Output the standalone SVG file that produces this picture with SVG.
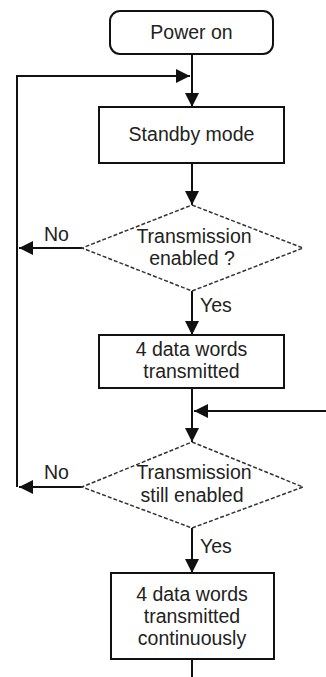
<svg xmlns="http://www.w3.org/2000/svg" width="326" height="677" viewBox="0 0 326 677">
<defs>
<marker id="ah" viewBox="0 0 10 10" refX="10" refY="5" markerWidth="14" markerHeight="14" markerUnits="userSpaceOnUse" orient="auto">
<path d="M0,0 L10,5 L0,10 Z" fill="#111"/>
</marker>
</defs>
<style>
.box{fill:#fff;stroke:#111;stroke-width:2}
.dia{fill:#fff;stroke:#333;stroke-width:1.5;stroke-dasharray:4 2}
.ln{fill:none;stroke:#111;stroke-width:2}
text{font-family:"Liberation Sans",Arial,sans-serif;font-size:19.5px;fill:#222;text-anchor:middle}
.lbl{text-anchor:start}
</style>
<rect width="326" height="677" fill="#fff"/>
<g id="connectors">
<line class="ln" x1="192" y1="54" x2="192" y2="107" marker-end="url(#ah)"/>
<polyline class="ln" points="17,487 17,76 190,76" marker-end="url(#ah)"/>
<line class="ln" x1="192" y1="163" x2="192" y2="205" marker-end="url(#ah)"/>
<line class="ln" x1="82" y1="248" x2="19" y2="248" marker-end="url(#ah)"/>
<line class="ln" x1="192" y1="291" x2="192" y2="335" marker-end="url(#ah)"/>
<line class="ln" x1="192" y1="388" x2="192" y2="442" marker-end="url(#ah)"/>
<line class="ln" x1="326" y1="411" x2="194" y2="411" marker-end="url(#ah)"/>
<line class="ln" x1="82" y1="487" x2="19" y2="487" marker-end="url(#ah)"/>
<line class="ln" x1="192" y1="528" x2="192" y2="573" marker-end="url(#ah)"/>
<line class="ln" x1="192" y1="659" x2="192" y2="677"/>
<text class="lbl" x="44" y="241">No</text>
<text class="lbl" x="200" y="312">Yes</text>
<text class="lbl" x="44" y="479">No</text>
<text class="lbl" x="200" y="553">Yes</text>
</g>
<g id="power-on">
<rect class="box" x="110" y="11" width="163" height="43" rx="10"/>
<text x="191.5" y="39">Power on</text>
</g>
<g id="standby">
<rect class="box" x="99" y="107" width="185" height="56"/>
<text x="191.5" y="141">Standby mode</text>
</g>
<g id="decision1">
<polygon class="dia" points="192,205 303,248 192,291 82,248"/>
<text x="194" y="243">Transmission</text>
<text x="192" y="265">enabled ?</text>
</g>
<g id="transmit">
<rect class="box" x="99" y="335" width="185" height="53"/>
<text x="191.5" y="356">4 data words</text>
<text x="191.5" y="378">transmitted</text>
</g>
<g id="decision2">
<polygon class="dia" points="192,442 303,487 192,528 82,487"/>
<text x="194" y="479">Transmission</text>
<text x="192" y="502">still enabled</text>
</g>
<g id="continuous">
<rect class="box" x="111" y="573" width="163" height="86"/>
<text x="192" y="601">4 data words</text>
<text x="192" y="623">transmitted</text>
<text x="192" y="645">continuously</text>
</g>
</svg>
